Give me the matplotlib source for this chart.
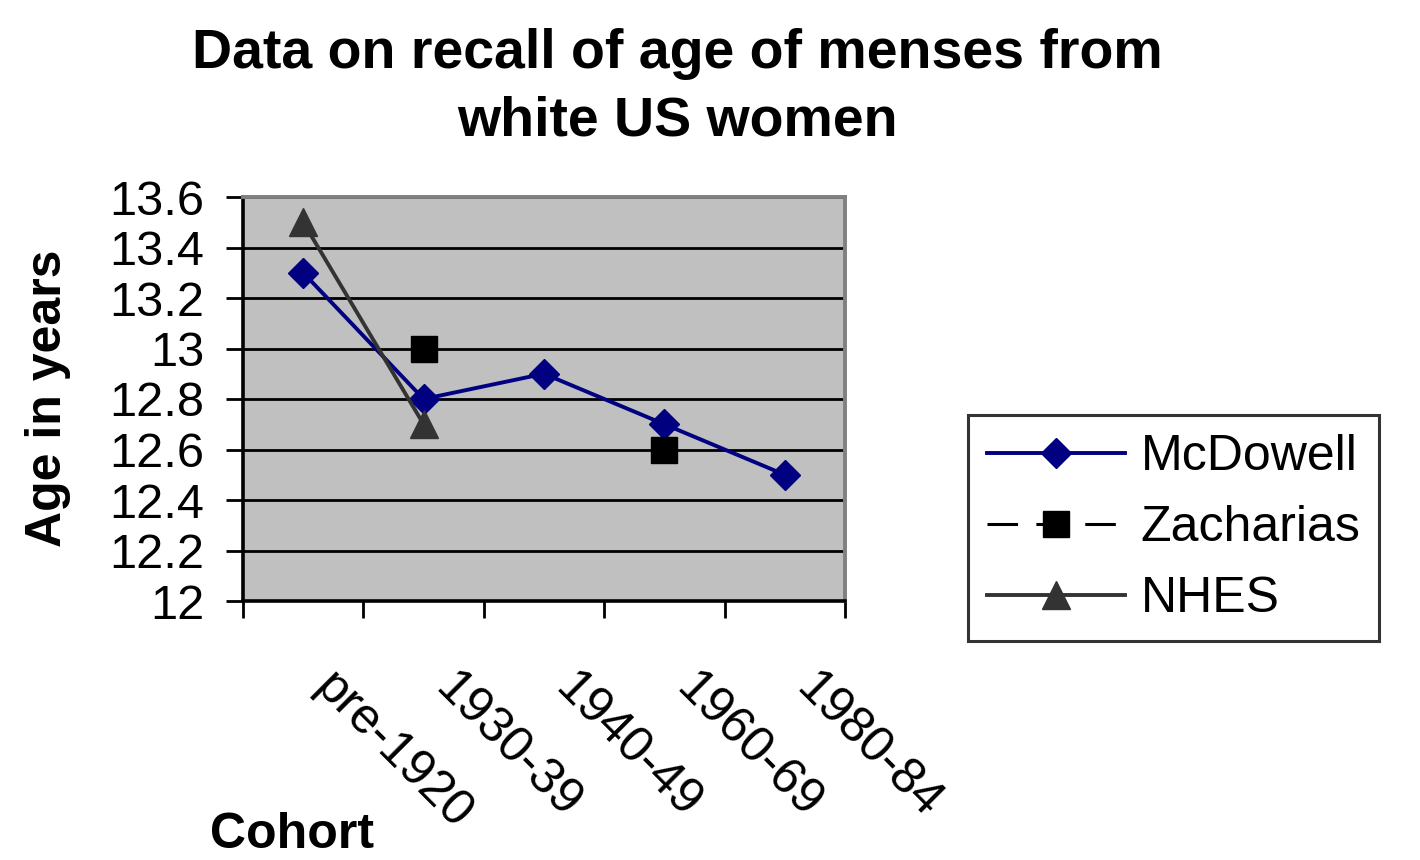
import numpy as np
import matplotlib
matplotlib.use('Agg')
import matplotlib.pyplot as plt
import matplotlib.transforms as mtransforms

plt.rcParams['font.family'] = ['Liberation Sans', 'DejaVu Sans']

# data
cohorts = ['pre-1920', '1930-39', '1940-49', '1960-69', '1980-84']
mcdowell = [13.3, 12.8, 12.9, 12.7, 12.5]
zacharias = [np.nan, 13.0, np.nan, 12.6, np.nan]
nhes = [13.5, 12.7, np.nan, np.nan, np.nan]
yticks = [12, 12.2, 12.4, 12.6, 12.8, 13, 13.2, 13.4, 13.6]

fig = plt.figure(figsize=(14.2, 8.6), dpi=100)
ax = fig.add_axes([243 / 1420, 1 - 601 / 860, 602 / 1420, 404 / 860])
ax.set_facecolor('#C0C0C0')

x = np.arange(len(cohorts))
ax.plot(x, mcdowell, color='#000080', lw=2.8, marker='D', ms=15,
        mfc='#000080', mec='#000080', label='McDowell', zorder=3)
ax.plot(x, zacharias, color='black', lw=2.2, ls=(0, (10, 6)), marker='s', ms=19,
        mfc='black', mec='black', label='Zacharias', zorder=4)
ax.plot(x, nhes, color='#333333', lw=2.8, marker='^', ms=20,
        mfc='#333333', mec='#333333', label='NHES', zorder=3)

ax.set_xlim(-0.5, len(cohorts) - 0.5)
ax.set_ylim(12, 13.6)
ax.set_yticks(yticks)
ax.set_yticklabels([f'{v:g}' for v in yticks])
ax.grid(axis='y', color='black', lw=2.0)
ax.set_axisbelow(True)

# ticks on category boundaries, labels at centres
ax.set_xticks(np.arange(-0.5, len(cohorts), 1))
ax.set_xticklabels([])
ax.set_xticks(x, minor=True)
ax.set_xticklabels(cohorts, minor=True)
ax.tick_params(axis='x', which='major', length=12, width=2, color='black', direction='out')
ax.tick_params(axis='x', which='minor', length=0, pad=40, labelsize=36)
ax.tick_params(axis='y', length=12, width=2, pad=16, labelsize=35)
shift = mtransforms.ScaledTranslation(35 / 100, -8 / 100, fig.dpi_scale_trans)
for lab in ax.get_xticklabels(minor=True):
    lab.set_rotation(-45)
    lab.set_rotation_mode('anchor')
    lab.set_ha('left')
    lab.set_va('top')
    lab.set_transform(lab.get_transform() + shift)

for s in ['left', 'bottom']:
    ax.spines[s].set_color('black')
    ax.spines[s].set_linewidth(2.6)
for s in ['top', 'right']:
    ax.spines[s].set_color('#808080')
    ax.spines[s].set_linewidth(2.8)

fig.text(677 / 1420, 1 - 88 / 860, 'Data on recall of age of menses from\nwhite US women',
         ha='center', va='center', fontsize=40, fontweight='bold', linespacing=1.38)
fig.text(48 / 1420, 1 - 398 / 860, 'Age in years', rotation=90, ha='center', va='center',
         fontsize=36, fontweight='bold')
fig.text(210 / 1420, 1 - 848 / 860, 'Cohort', ha='left', va='baseline',
         fontsize=36, fontweight='bold')

leg = fig.legend(loc='center left', bbox_to_anchor=(968 / 1420, 1 - 528 / 860),
                 fontsize=36, frameon=True, fancybox=False, handlelength=2.75,
                 labelspacing=0.5, borderpad=0.38, handletextpad=0.32, borderaxespad=0)
leg.get_frame().set_edgecolor('black')
leg.get_frame().set_linewidth(2.2)

fig.savefig('out.png', dpi=100)
